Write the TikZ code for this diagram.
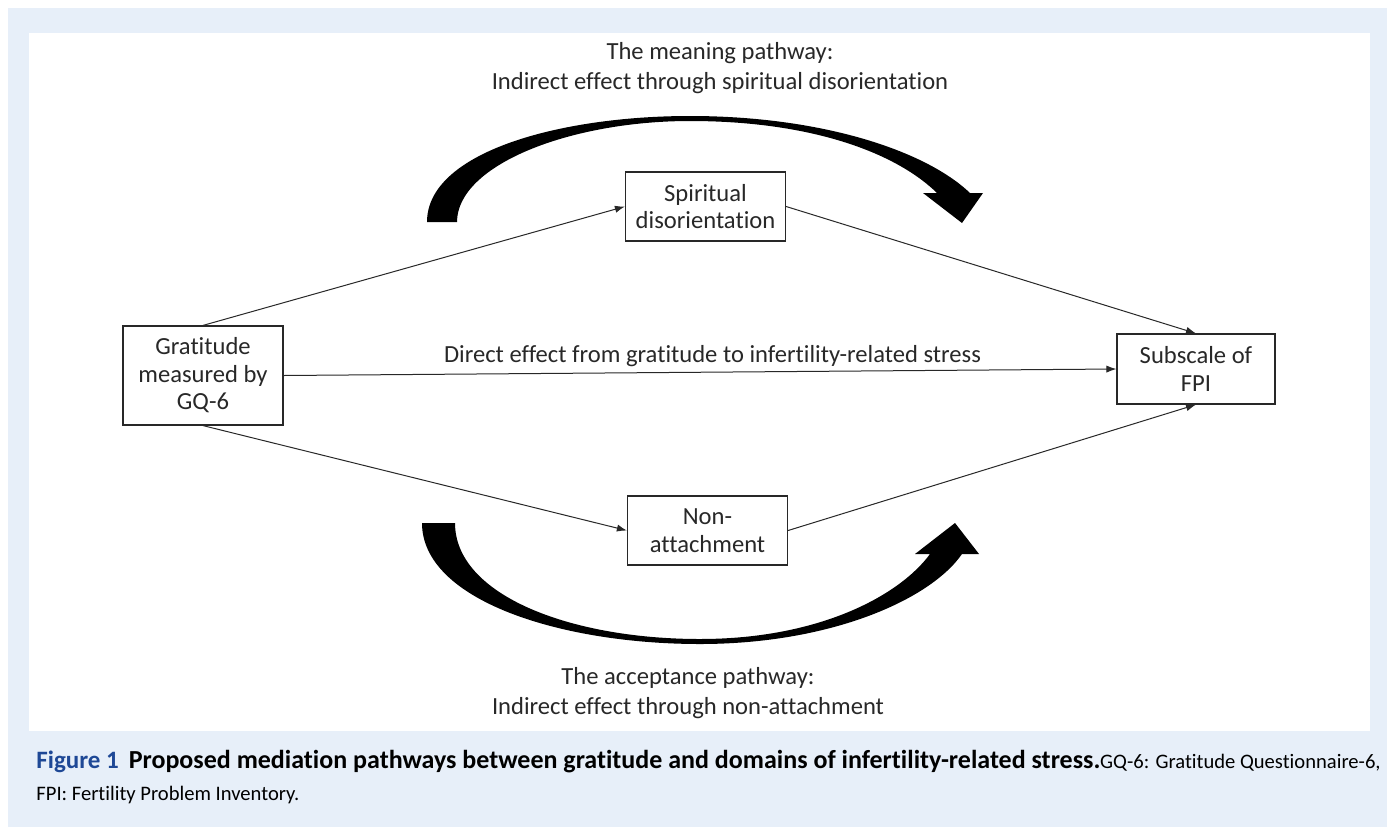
\documentclass[tikz,border=0pt]{standalone}
\usepackage{fontspec}
\setmainfont{Carlito}[Ligatures={NoCommon,NoDiscretionary}]
\usetikzlibrary{arrows.meta}
\definecolor{xBack}{RGB}{231,239,249}
\definecolor{xBlue}{RGB}{30,72,150}
\definecolor{xInk}{RGB}{40,40,40}
\tikzset{
  factor/.style={draw=xInk, line width=0.6pt, align=center, inner sep=0pt, text=xInk,
                 font=\fontsize{12.3}{13.75}\selectfont, minimum width=80pt},
  effect/.style={-{Latex[length=5pt,width=3.6pt]}, line width=0.5pt, xInk},
  route/.style={fill=black},
  note/.style={align=center, text=xInk, font=\fontsize{12.3}{15}\selectfont},
}
\begin{document}
\begin{tikzpicture}[x=0.5pt, y=-0.5pt]
  \useasboundingbox (0,0) rectangle (1395,835);
  \fill[xBack] (8,8) rectangle (1387,827);
  \fill[white] (29,33) rectangle (1370,731);

  \node[factor, minimum height=49.5pt] (g) at (203,375.5) {Gratitude\\measured by\\GQ-6};
  \node[factor, minimum height=34.5pt] (s) at (705.5,206.5) {Spiritual\\disorientation};
  \node[factor, minimum height=34.5pt] (n) at (707.5,530.5) {Non-\\attachment};
  \node[factor, minimum height=35pt, minimum width=79pt] (f) at (1196,369) {Subscale of\\FPI};

  \draw[effect] (g.north) -- (s.west);
  \draw[effect] (s.east) -- (f.north);
  \draw[effect] (g.east) -- node[note, above, yshift=-1pt, pos=0.515] (dl) {Direct effect from gratitude to infertility-related stress} (f.west);
  \draw[effect] (g.south) -- (n.west);
  \draw[effect] (n.east) -- (f.south);

  % meaning pathway
  \fill[route] (427,222) .. controls (427,152) and (560,116) .. (690,116)
     .. controls (820,116) and (925,150) .. (970,193) -- (983,193) -- (962,223) -- (923,193) -- (937,193)
     .. controls (895,152) and (810,121) .. (690,121)
     .. controls (570,121) and (457,165) .. (457,222) -- cycle;
  % acceptance pathway
  \fill[route] (422,523) .. controls (422,600) and (560,644) .. (700,644)
     .. controls (830,644) and (930,600) .. (962,554) -- (979,554) -- (955,523) -- (915,554) -- (930,554)
     .. controls (900,595) and (820,639) .. (700,639)
     .. controls (570,639) and (455,595) .. (455,523) -- cycle;

  \node[note] (mt) at (720,68) {The meaning pathway:\\Indirect effect through spiritual disorientation};
  \node[note] (at) at (688,693) {The acceptance pathway:\\Indirect effect through non-attachment};

  \node[anchor=north west, align=left, inner sep=0pt, font=\fontsize{10.3}{16}\selectfont] (cap) at (36,750)
    {{\fontsize{12.5}{16}\selectfont\color{xBlue}\bfseries Figure 1}\hspace{5pt}{\fontsize{13}{16}\selectfont\bfseries Proposed mediation pathways between gratitude and domains of infertility-related stress.}GQ-6: Gratitude Questionnaire-6,\\FPI: Fertility Problem Inventory.};
\end{tikzpicture}
\end{document}
